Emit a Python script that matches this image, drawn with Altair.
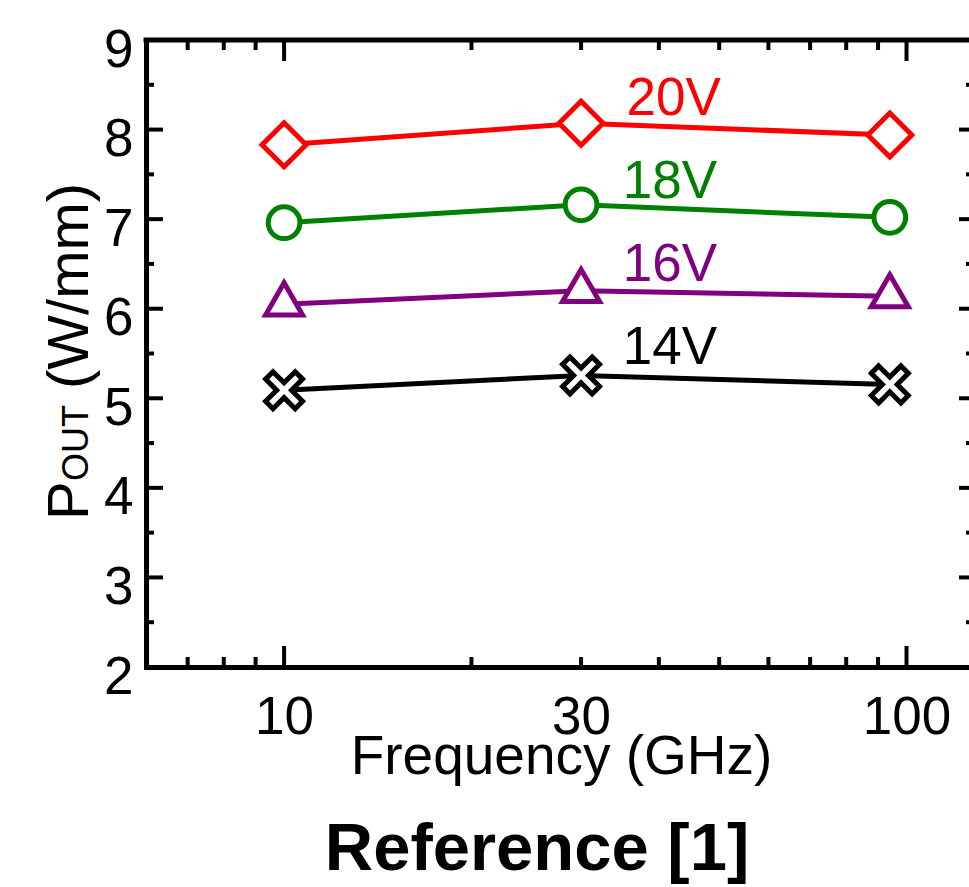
import altair as alt
import pandas as pd

# ---------------- data ----------------
freq = [10, 30, 94]
series = ["20V", "18V", "16V", "14V"]
p20 = [7.83, 8.07, 7.94]
p18 = [6.96, 7.16, 7.02]
p16 = [6.05, 6.20, 6.14]
p14 = [5.09, 5.255, 5.155]
colors = ["#FF0000", "#008000", "#800080", "#000000"]

label_x = [35.5, 35.0, 35.0, 35.0]
label_y = [8.16, 7.24, 6.31, 5.38]

x_labels = [10, 30, 100]
y_labels = [2, 3, 4, 5, 6, 7, 8, 9]
x_major = [10, 100]
x_minor = [7, 8, 9, 20, 30, 40, 50, 60, 70, 80, 90]
y_major = [3, 4, 5, 6, 7, 8]
y_minor = [2.5, 3.5, 4.5, 5.5, 6.5, 7.5, 8.5]

# ---------------- tables ----------------
rows = []
for name, vals in zip(series, [p20, p18, p16, p14]):
    for f, v in zip(freq, vals):
        rows.append({"series": name, "freq": f, "pout": v})
df = pd.DataFrame(rows)
lab_df = pd.DataFrame({"series": series, "freq": label_x, "pout": label_y})

W, H = 823, 627
FONT = "Liberation Sans, Arial, Helvetica, sans-serif"
FS = 53

xscale = alt.Scale(type="log", domain=[6, 126], nice=False)
yscale = alt.Scale(domain=[2, 9], nice=False, zero=False)

tri_path = "M0,-1.155L1,0.577L-1,0.577Z"
x_path = ("M-0.6,-1L0,-0.4L0.6,-1L1,-0.6L0.4,0L1,0.6L0.6,1L0,0.4"
          "L-0.6,1L-1,0.6L-0.4,0L-1,-0.6Z")
marker_shapes = ["diamond", "circle", tri_path, x_path]
marker_sizes = [1936, 1005, 1369, 1369]

color_scale = alt.Scale(domain=series, range=colors)

x_axis = alt.Axis(values=x_labels, format="d", ticks=False, grid=False,
                  domain=True, domainWidth=5, domainColor="black", domainCap="square",
                  labelFontSize=FS, labelFont=FONT, labelColor="black",
                  labelPadding=66, labelBaseline="alphabetic", labelFlush=False,
                  labelOverlap=False,
                  title="Frequency (GHz)", titleFontSize=55, titleFont=FONT,
                  titleFontWeight="normal", titleColor="black",
                  titleX=415, titleY=106, titleBaseline="alphabetic",
                  titleAlign="center", titleAnchor="start")
y_axis = alt.Axis(values=y_labels, format="d", ticks=False, grid=False,
                  domain=True, domainWidth=5, domainColor="black", domainCap="square",
                  labelFontSize=FS, labelFont=FONT, labelColor="black",
                  labelPadding=13, labelBaseline="alphabetic", labelOffset=26,
                  labelFlush=False, labelOverlap=False, title=None)

base = alt.Chart(df)

lines = base.mark_line(strokeWidth=5).encode(
    x=alt.X("freq:Q", scale=xscale, axis=x_axis),
    y=alt.Y("pout:Q", scale=yscale, axis=y_axis),
    color=alt.Color("series:N", scale=color_scale, legend=None),
    detail="series:N",
)

point_layers = []
for name, col, shp, sz in zip(series, colors, marker_shapes, marker_sizes):
    point_layers.append(
        base.transform_filter(alt.datum.series == name).mark_point(
            shape=shp, size=sz, filled=True, fill="white", fillOpacity=1,
            opacity=1, stroke=col, strokeWidth=5).encode(
            x=alt.X("freq:Q", scale=xscale),
            y=alt.Y("pout:Q", scale=yscale),
        )
    )

labels = alt.Chart(lab_df).mark_text(align="left", baseline="alphabetic",
                                     fontSize=FS, font=FONT).encode(
    x=alt.X("freq:Q", scale=xscale),
    y=alt.Y("pout:Q", scale=yscale),
    text="series:N",
    color=alt.Color("series:N", scale=color_scale, legend=None),
)

def xticks(vals, y0, y1):
    return alt.Chart(pd.DataFrame({"freq": vals})).mark_rule(
        color="black", strokeWidth=4).encode(
        x=alt.X("freq:Q", scale=xscale), y=alt.value(y0), y2=alt.value(y1))

def yticks(vals, x0, x1):
    return alt.Chart(pd.DataFrame({"pout": vals})).mark_rule(
        color="black", strokeWidth=4).encode(
        y=alt.Y("pout:Q", scale=yscale), x=alt.value(x0), x2=alt.value(x1))

ticks = [
    xticks(x_major, H, H - 21), xticks(x_minor, H, H - 10),
    xticks(x_major, 0, 21), xticks(x_minor, 0, 10),
    yticks(y_major, 0, 17), yticks(y_minor, 0, 8),
    yticks(y_major, W - 10, W), yticks(y_minor, W - 3, W),
]

one = pd.DataFrame({"a": [0]})
top_frame = alt.Chart(one).mark_rule(color="black", strokeWidth=5, strokeCap="square").encode(
    x=alt.value(0), x2=alt.value(W + 5), y=alt.value(0))

ytitle_p = alt.Chart(one).mark_text(text="P", angle=270, align="left", baseline="alphabetic",
                                    fontSize=58, font=FONT, color="black").encode(
    x=alt.value(-58), y=alt.value(480))
ytitle_sub = alt.Chart(one).mark_text(text="OUT", angle=270, align="left", baseline="alphabetic",
                                      fontSize=36, font=FONT, color="black").encode(
    x=alt.value(-58), y=alt.value(441))
ytitle_rest = alt.Chart(one).mark_text(text="(W/mm)", angle=270, align="left", baseline="alphabetic",
                                       fontSize=58, font=FONT, color="black").encode(
    x=alt.value(-58), y=alt.value(349))

ref_title = alt.Chart(one).mark_text(text="Reference [1]", align="center", baseline="alphabetic",
                                     fontSize=67, fontWeight="bold", font=FONT, color="black").encode(
    x=alt.value(391), y=alt.value(830))

chart = alt.layer(
    lines, *point_layers, labels, *ticks, top_frame,
    ytitle_p, ytitle_sub, ytitle_rest, ref_title
).properties(
    width=W, height=H, autosize="none",
    padding={"left": 146, "top": 40, "right": 0, "bottom": 220},
).configure_view(stroke=None).configure(background="white")

chart.save("out.html", embed_options={"renderer": "svg", "actions": False})
